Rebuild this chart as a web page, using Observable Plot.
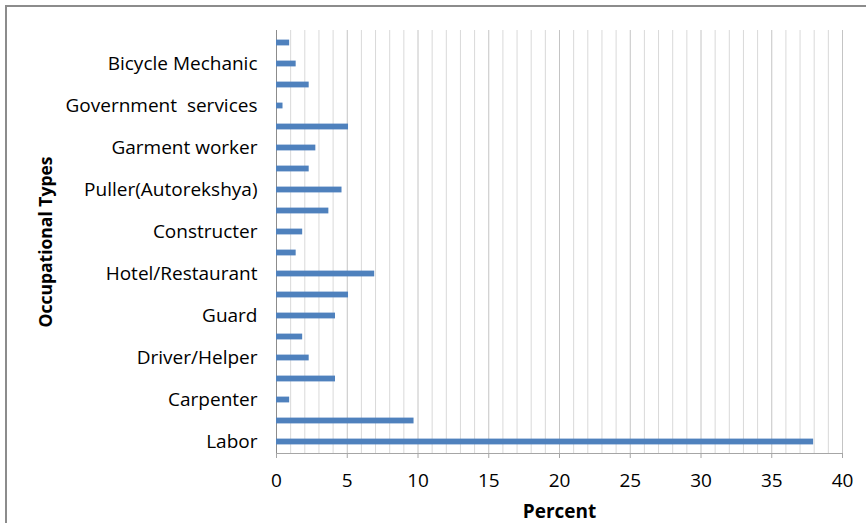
<!DOCTYPE html>
<html>
<head>
<meta charset="utf-8">
<script src="https://cdn.jsdelivr.net/npm/d3@7"></script>
<script src="https://cdn.jsdelivr.net/npm/@observablehq/plot@0.6"></script>
<style>
  html, body { margin: 0; padding: 0; background: #fff; overflow: hidden; }
  #wrap { position: relative; width: 866px; height: 523px; }
  #border { position: absolute; left: 5px; top: 5px; width: 900px; height: 600px; border: 2px solid #8c8c8c; box-sizing: border-box; pointer-events: none; }
  #chart svg { display: block; }
  #chart svg [aria-label="x-axis label"], #chart svg [aria-label="y-axis label"] { font-weight: bold; }
  #chart svg [aria-label="y-axis label"] { font-size: 17.5px; }
</style>
</head>
<body>
<div id="wrap"><div id="chart"></div><div id="border"></div></div>
<script>
// Categories from bottom (index 0) to top; unlabeled rows have no visible tick label
const categoryLabels = ["Labor", "", "Carpenter", "", "Driver/Helper", "", "Guard", "", "Hotel/Restaurant", "",
  "Constructer", "", "Puller(Autorekshya)", "", "Garment worker", "", "Government  services", "", "Bicycle Mechanic", ""];
const percentValues = [37.96, 9.72, 0.93, 4.17, 2.31, 1.85, 4.17, 5.09, 6.94, 1.39,
  1.85, 3.70, 4.63, 2.31, 2.78, 5.09, 0.46, 2.31, 1.39, 0.93];
const xTickValues = [0, 5, 10, 15, 20, 25, 30, 35, 40];
const gridValues = d3.range(1, 41);

const data = percentValues.map((v, i) => ({i, label: categoryLabels[i], value: v}));
const order = d3.range(categoryLabels.length).reverse();

const plot = Plot.plot({
  width: 866,
  height: 523,
  marginLeft: 276,
  marginRight: 24,
  marginTop: 30,
  marginBottom: 70,
  style: {fontFamily: "'Open Sans', sans-serif", fontSize: "19px", color: "#000", background: "transparent"},
  x: {domain: [0, 40], nice: false},
  y: {domain: order, padding: 0},
  marks: [
    Plot.ruleX(gridValues, {stroke: d => d % 5 === 0 ? "#c4c4c4" : "#d9d9d9", strokeWidth: 1}),
    Plot.frame({anchor: "bottom", stroke: "#a6a6a6"}),
    Plot.ruleX([0], {stroke: "#8c8c8c"}),
    Plot.barX(data, {x: "value", y: "i", fill: "#4f81bd", insetTop: 7.6, insetBottom: 7.6}),
    Plot.axisX(xTickValues, {tickSize: 5, tickPadding: 15, stroke: "#a6a6a6", fill: "#000", label: "Percent", labelArrow: "none", labelAnchor: "center", labelOffset: 64, fontSize: 19}),
    Plot.axisY({tickSize: 0, tickPadding: 19, tickFormat: i => categoryLabels[i], label: "Occupational Types", labelAnchor: "center", labelOffset: 237, fontSize: 19})
  ]
});
document.getElementById("chart").appendChild(plot);
</script>
</body>
</html>
